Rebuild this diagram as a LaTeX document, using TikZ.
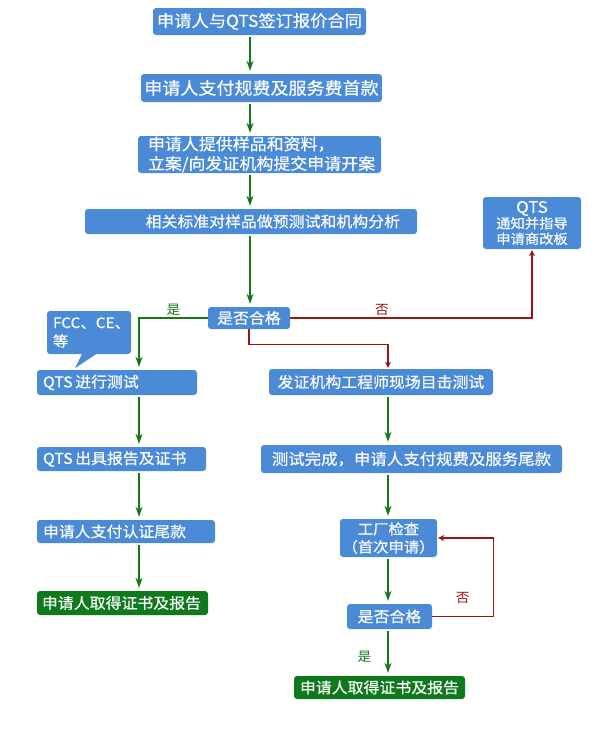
\documentclass[tikz,border=0pt]{standalone}
\usepackage{fontspec}
\setmainfont[FakeStretch=1.06]{Noto Sans CJK SC}
\newfontfamily\boxfont[FakeStretch=1.06,FakeBold=0.4]{Noto Sans CJK SC}
\usetikzlibrary{positioning,arrows.meta}
\usepackage{xcolor}
\definecolor{boxblue}{RGB}{74,138,214}
\definecolor{boxgreen}{RGB}{14,122,28}
\definecolor{yesgreen}{RGB}{20,120,24}
\definecolor{nored}{RGB}{158,18,18}

\begin{document}
\begin{tikzpicture}[
    x=1pt, y=-1pt,
    box/.style={rectangle, rounded corners=3pt, fill=boxblue, text=white, inner ysep=0pt, font=\boxfont\fontsize{15}{17}\selectfont},
    done/.style={box, fill=boxgreen},
    lbox/.style={box, align=left, inner xsep=6pt},
    go/.style={draw=yesgreen, line width=1.3pt, -{Stealth[length=10pt,width=7pt,inset=3pt]}, shorten <=2pt, shorten >=3pt},
    stop/.style={draw=nored, line width=1.4pt, -{Stealth[length=6pt,width=6pt]}, shorten >=1pt},
    yeslbl/.style={text=yesgreen, font=\fontsize{13}{13}\selectfont, inner sep=2pt},
    nolbl/.style={text=nored, font=\fontsize{13}{13}\selectfont, inner sep=2pt}
]
\useasboundingbox (0,0) rectangle (597,729);

% column lines
\coordinate (mx) at (250,0);
\coordinate (lx) at (139,0);
\coordinate (rx) at (388,0);

\node (sign) [box, minimum width=213pt, minimum height=27pt, font=\boxfont\fontsize{16.3}{18}\selectfont] at (259.5,21.5) {申请人与QTS签订报价合同};
\node (pay1) [box, minimum width=239pt, minimum height=28pt, font=\boxfont\fontsize{17}{19}\selectfont] at (261.5,88) {申请人支付规费及服务费首款};
\node (file) [box, text width=223pt, inner xsep=10pt, align=left, minimum height=37pt, font=\boxfont\fontsize{16}{19.5}\selectfont] at (259.5,154.5) {申请人提供样品和资料，\\立案/向发证机构提交申请开案};
\node (pre) [box, text width=298pt, inner xsep=17pt, align=right, minimum height=25pt] at (251,221.5) {相关标准对样品做预测试和机构分析};
\node (fix) [box, minimum width=98pt, minimum height=52pt, align=center, font=\boxfont\fontsize{13.5}{15.5}\selectfont] at (532,223) {{\fontsize{16}{15.5}\selectfont QTS}\\通知并指导\\申请商改板};
\node (chk1) [box, minimum width=82pt, minimum height=22pt] at (249,318) {是否合格};

% left branch
\node (note) [lbox, text width=72pt, minimum height=43pt, font=\boxfont\fontsize{14.5}{18.5}\selectfont] at (89,332.5) {FCC、CE、\\等};
\fill[boxblue] ([xshift=-7pt]note.south) -- ++(-7,14) -- ([xshift=7pt]note.south) -- cycle;
\node (qtest) [lbox, text width=148pt, minimum height=25pt] at (117,382.5) {QTS\,进行测试};
\node (qrep) [lbox, text width=157pt, minimum height=24pt] at (121.5,459) {QTS\,出具报告及证书};
\node (qpay) [lbox, text width=166pt, minimum height=23pt] at (126,531.5) {申请人支付认证尾款};
\node (qdone) [done, align=left, inner xsep=5pt, text width=161pt, minimum height=24pt] at (122.5,603) {申请人取得证书及报告};

% right branch
\node (wit) [box, minimum width=224pt, minimum height=26pt] at (381,382) {发证机构工程师现场目击测试};
\node (pay2) [box, minimum width=301pt, minimum height=28pt, font=\boxfont\fontsize{15.5}{17}\selectfont] at (411.5,459) {测试完成，申请人支付规费及服务尾款};
\node (fact) [box, minimum width=97pt, minimum height=38pt, inner xsep=1pt, align=center, font=\boxfont\fontsize{14.5}{18}\selectfont] at (388.5,538) {工厂检查\\（首次申请）};
\node (chk2) [box, minimum width=85pt, minimum height=25pt] at (389.5,616.5) {是否合格};
\node (rdone) [done, minimum width=171pt, minimum height=23pt] at (379.5,687.5) {申请人取得证书及报告};

\draw[go] (sign.south -| mx) -- (pay1.north -| mx);
\draw[go] (pay1.south -| mx) -- (file.north -| mx);
\draw[go] (file.south -| mx) -- (pre.north -| mx);
\draw[go] (pre.south -| mx) -- (chk1.north -| mx);
\draw[go, shorten <=0pt] (chk1.west) -| node[pos=0.25, above, yeslbl] (yes1) {是} (qtest.north -| lx);
\draw[stop] (chk1.east) -| node[pos=0.19, above, nolbl] (no1) {否} (fix.south);
\draw[stop] (chk1.south) -- ++(0,15) -| (wit.north -| rx);

\draw[go] (qtest.south -| lx) -- (qrep.north -| lx);
\draw[go] (qrep.south -| lx) -- (qpay.north -| lx);
\draw[go] (qpay.south -| lx) -- (qdone.north -| lx);

\draw[go] (wit.south -| rx) -- (pay2.north -| rx);
\draw[go] (pay2.south -| rx) -- (fact.north -| rx);
\draw[go] (fact.south -| rx) -- (chk2.north -| rx);
\draw[go] (chk2.south -| rx) -- node[pos=0.6, left=14pt, yeslbl] (yes2) {是} (rdone.north -| rx);
\draw[stop] (chk2.east) -- node[above=10pt, nolbl] (no2) {否} ++(61,0) |- (fact.east);

\end{tikzpicture}
\end{document}
